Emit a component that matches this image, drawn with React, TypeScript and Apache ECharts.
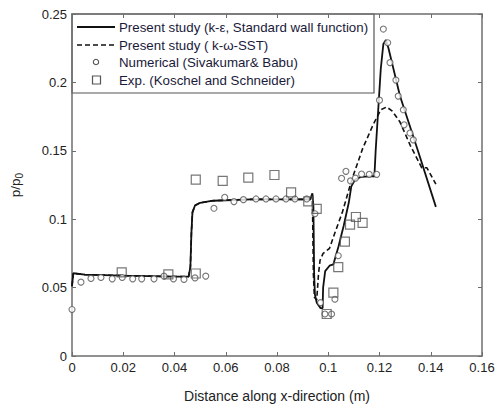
import React, { useEffect, useRef } from "react";
import * as echarts from "echarts";

// Pressure ratio p/p0 along the x-direction
const kEpsX = [0, 0.0005, 0.005, 0.02, 0.04, 0.0455, 0.0462, 0.0466, 0.047, 0.048, 0.05, 0.055, 0.07, 0.09, 0.093, 0.0938, 0.0942, 0.0945, 0.0948, 0.0955, 0.097, 0.0978, 0.098, 0.0988, 0.1005, 0.102, 0.104, 0.106, 0.108, 0.109, 0.1105, 0.113, 0.1175, 0.118, 0.1185, 0.1205, 0.1215, 0.1225, 0.1235, 0.128, 0.135, 0.142];
const kEpsY = [0.051, 0.0605, 0.0595, 0.0588, 0.058, 0.058, 0.065, 0.09, 0.105, 0.11, 0.112, 0.1135, 0.1145, 0.1145, 0.1145, 0.119, 0.11, 0.06, 0.045, 0.039, 0.035, 0.035, 0.05, 0.062, 0.066, 0.067, 0.08, 0.095, 0.112, 0.124, 0.129, 0.131, 0.1315, 0.131, 0.15, 0.21, 0.228, 0.231, 0.225, 0.19, 0.15, 0.109];

const sstX = [0, 0.0005, 0.005, 0.02, 0.04, 0.0455, 0.0462, 0.0466, 0.047, 0.048, 0.05, 0.055, 0.07, 0.09, 0.093, 0.0938, 0.0942, 0.0946, 0.0955, 0.0962, 0.0968, 0.098, 0.1005, 0.1025, 0.1055, 0.1092, 0.1135, 0.1175, 0.1205, 0.1228, 0.125, 0.128, 0.132, 0.1365, 0.1385, 0.142];
const sstY = [0.051, 0.0605, 0.0595, 0.0588, 0.058, 0.058, 0.065, 0.09, 0.105, 0.11, 0.112, 0.1135, 0.1145, 0.1145, 0.1145, 0.118, 0.06, 0.043, 0.041, 0.06, 0.07, 0.075, 0.0787, 0.0896, 0.105, 0.129, 0.152, 0.169, 0.18, 0.182, 0.179, 0.171, 0.154, 0.1376, 0.1376, 0.1256];

const numX = [0, 0.0035, 0.0074, 0.0113, 0.0157, 0.0196, 0.0237, 0.0272, 0.032, 0.0359, 0.0396, 0.0437, 0.048, 0.0522, 0.0554, 0.0596, 0.0632, 0.0669, 0.0718, 0.0757, 0.0796, 0.0835, 0.087, 0.0916, 0.0948, 0.097, 0.0987, 0.1013, 0.1026, 0.1039, 0.1052, 0.1069, 0.1087, 0.1106, 0.113, 0.116, 0.1189, 0.12, 0.1215, 0.1232, 0.1241, 0.1264, 0.1273, 0.1293, 0.1296, 0.1319, 0.1332];
const numY = [0.034, 0.054, 0.0567, 0.0574, 0.0564, 0.0574, 0.0564, 0.0564, 0.0564, 0.0584, 0.0564, 0.056, 0.0571, 0.0584, 0.108, 0.116, 0.1129, 0.1143, 0.1148, 0.1148, 0.1148, 0.1148, 0.1148, 0.1148, 0.104, 0.039, 0.0307, 0.0307, 0.0415, 0.0733, 0.1299, 0.135, 0.128, 0.13, 0.133, 0.1328, 0.1328, 0.187, 0.239, 0.229, 0.2145, 0.2017, 0.19, 0.18, 0.169, 0.163, 0.158];

const expX = [0.0194, 0.0376, 0.0483, 0.0483, 0.0588, 0.0688, 0.079, 0.0855, 0.0922, 0.0955, 0.0994, 0.102, 0.1039, 0.1065, 0.1085, 0.1108, 0.1134];
const expY = [0.0612, 0.0596, 0.0603, 0.129, 0.128, 0.1304, 0.1323, 0.1196, 0.1131, 0.1076, 0.0307, 0.0463, 0.065, 0.0836, 0.096, 0.1016, 0.0973];

const legendLabels = [
  "Present study (k-ε, Standard wall function)",
  "Present study ( k-ω-SST)",
  "Numerical (Sivakumar& Babu)",
  "Exp. (Koschel and Schneider)",
];

const xTicks = [0, 0.02, 0.04, 0.06, 0.08, 0.1, 0.12, 0.14, 0.16];
const yTicks = [0, 0.05, 0.1, 0.15, 0.2, 0.25];

const zip = (xs: number[], ys: number[]) => xs.map((x, i) => [x, ys[i]]);

const FONT = "Liberation Sans, Arial, sans-serif";
const AXIS_COLOR = "#6e6e6e";

export default function App() {
  const ref = useRef<HTMLDivElement>(null);

  useEffect(() => {
    if (!ref.current) return;
    const chart = echarts.init(ref.current, undefined, { renderer: "svg" });

    const baseX = {
      type: "value" as const,
      min: xTicks[0],
      max: xTicks[xTicks.length - 1],
      interval: 0.02,
      splitLine: { show: false },
      axisLine: { show: true, onZero: false, lineStyle: { color: AXIS_COLOR, width: 1.5 } },
      axisTick: { show: true, inside: true, length: 4, lineStyle: { color: AXIS_COLOR, width: 1 } },
    };
    const baseY = {
      type: "value" as const,
      min: yTicks[0],
      max: yTicks[yTicks.length - 1],
      interval: 0.05,
      splitLine: { show: false },
      axisLine: { show: true, onZero: false, lineStyle: { color: AXIS_COLOR, width: 1.5 } },
      axisTick: { show: true, inside: true, length: 4, lineStyle: { color: AXIS_COLOR, width: 1 } },
    };

    const rowY = [27, 45, 62, 80];
    const textX = 119;

    chart.setOption({
      animation: false,
      backgroundColor: "#ffffff",
      textStyle: { fontFamily: FONT },
      grid: { left: 72, right: 18, top: 14, bottom: 47 },
      xAxis: [
        {
          ...baseX,
          position: "bottom",
          name: "Distance along x-direction (m)",
          nameLocation: "middle",
          nameGap: 33,
          nameTextStyle: { fontFamily: FONT, fontSize: 14, color: "#222" },
          axisLabel: {
            fontFamily: FONT,
            fontSize: 13,
            color: "#222",
            margin: 5,
            formatter: (v: number) => String(+v.toFixed(2)),
          },
        },
        { ...baseX, position: "top", axisLabel: { show: false } },
      ],
      yAxis: [
        {
          ...baseY,
          position: "left",
          name: "{m|p/p}{s|0}",
          nameLocation: "middle",
          nameGap: 48,
          nameTextStyle: {
            rich: {
              m: { fontFamily: FONT, fontSize: 13.5, color: "#222" },
              s: { fontFamily: FONT, fontSize: 10, color: "#222", verticalAlign: "bottom", padding: [8, 0, 0, 0] },
            },
          },
          axisLabel: {
            fontFamily: FONT,
            fontSize: 13,
            color: "#222",
            margin: 5,
            formatter: (v: number) => String(+v.toFixed(2)),
          },
        },
        { ...baseY, position: "right", axisLabel: { show: false } },
      ],
      series: [
        {
          name: legendLabels[0],
          type: "line",
          data: zip(kEpsX, kEpsY),
          showSymbol: false,
          lineStyle: { color: "#111", width: 1.8 },
          z: 4,
        },
        {
          name: legendLabels[1],
          type: "line",
          data: zip(sstX, sstY),
          showSymbol: false,
          lineStyle: { color: "#111", width: 1.6, type: [5, 3] },
          z: 3,
        },
        {
          name: legendLabels[2],
          type: "scatter",
          data: zip(numX, numY),
          symbol: "circle",
          symbolSize: 6,
          itemStyle: { color: "#ffffff", borderColor: "#555", borderWidth: 1.1 },
          z: 5,
        },
        {
          name: legendLabels[3],
          type: "scatter",
          data: zip(expX, expY),
          symbol: "rect",
          symbolSize: 9,
          itemStyle: { color: "rgba(255,255,255,0)", borderColor: "#555", borderWidth: 1.2 },
          z: 5,
        },
      ],
      graphic: [
        {
          type: "group",
          z: 100,
          children: [
            {
              type: "rect",
              shape: { x: 72, y: 14, width: 302, height: 79 },
              style: { fill: "#ffffff", stroke: "#555", lineWidth: 1.2 },
            },
            {
              type: "line",
              shape: { x1: 77, y1: rowY[0], x2: 115, y2: rowY[0] },
              style: { stroke: "#111", lineWidth: 1.8 },
            },
            {
              type: "line",
              shape: { x1: 77, y1: rowY[1], x2: 115, y2: rowY[1] },
              style: { stroke: "#111", lineWidth: 1.6, lineDash: [5, 3] },
            },
            {
              type: "circle",
              shape: { cx: 96, cy: rowY[2], r: 2.7 },
              style: { fill: "#ffffff", stroke: "#555", lineWidth: 1.1 },
            },
            {
              type: "rect",
              shape: { x: 92.5, y: rowY[3] - 4, width: 8, height: 8 },
              style: { fill: "#ffffff", stroke: "#555", lineWidth: 1.2 },
            },
            ...legendLabels.map((label, i) => ({
              type: "text",
              x: textX,
              y: rowY[i],
              style: {
                text: label,
                fontFamily: FONT,
                fontSize: 13.3,
                fill: "#1a1a3a",
                verticalAlign: "middle",
                align: "left",
              },
            })),
          ],
        },
      ],
    });

    return () => chart.dispose();
  }, []);

  return (
    <div
      ref={ref}
      style={{ position: "absolute", left: 0, top: 0, width: 500, height: 408 }}
    />
  );
}
